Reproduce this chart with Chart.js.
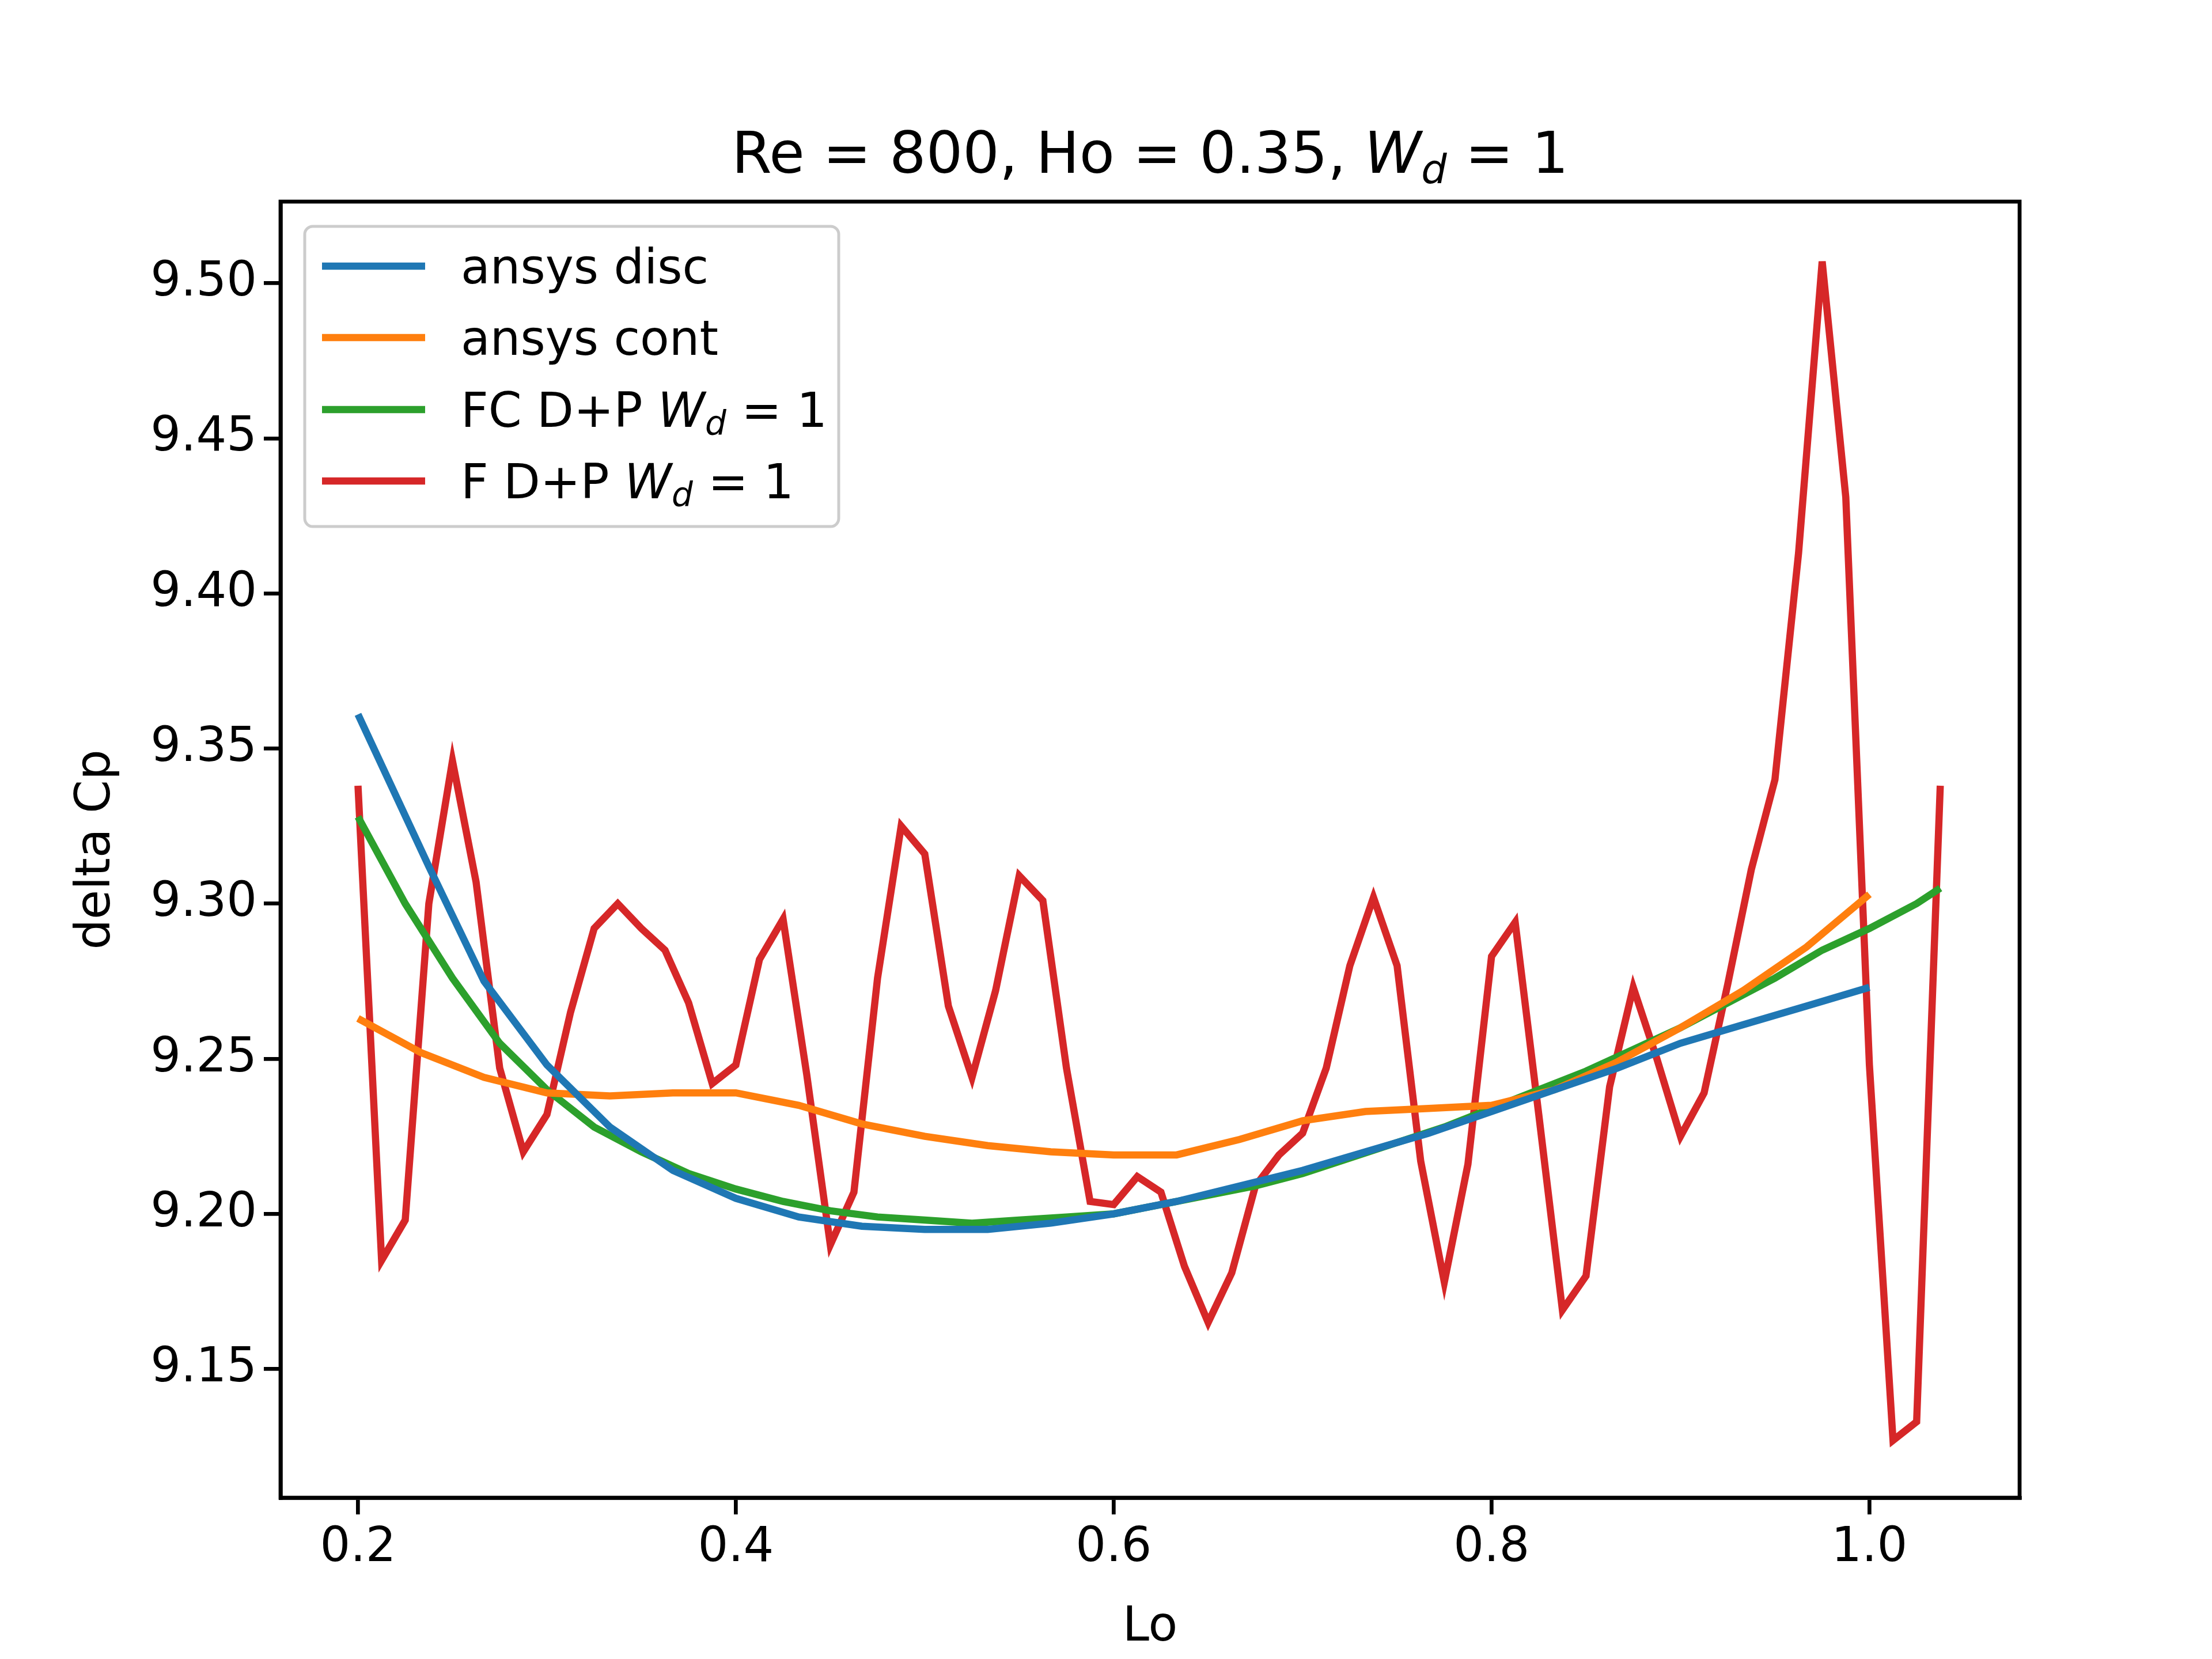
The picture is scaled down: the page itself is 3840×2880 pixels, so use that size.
<!DOCTYPE html>
<html><head><script src="https://cdn.jsdelivr.net/npm/chart.js@4"></script>
<style>html,body{margin:0;background:#fff}</style></head>
<body><canvas id="c" width="3840" height="2880" style="width:3840px;height:2880px"></canvas>
<script>
const xTicks=[0.2,0.4,0.6,0.8,1.0];
const yTicks=[9.15,9.20,9.25,9.30,9.35,9.40,9.45,9.50];
const blueX=[0.2,0.2375,0.2667,0.3,0.3333,0.3667,0.4,0.4333,0.4667,0.5,0.5333,0.5667,0.6,0.6333,0.6667,0.7,0.7333,0.7667,0.8,0.8333,0.8667,0.9,0.9333,0.9667,1.0];
const blueY=[9.361,9.312,9.275,9.248,9.228,9.214,9.205,9.199,9.196,9.195,9.195,9.197,9.200,9.204,9.209,9.214,9.220,9.226,9.233,9.240,9.247,9.255,9.261,9.267,9.273];
const orangeX=[0.2,0.2333,0.2667,0.3,0.3333,0.3667,0.4,0.4333,0.4667,0.5,0.5333,0.5667,0.6,0.6333,0.6667,0.7,0.7333,0.7667,0.8,0.8333,0.8667,0.9,0.9333,0.9667,1.0];
const orangeY=[9.263,9.252,9.244,9.239,9.238,9.239,9.239,9.235,9.229,9.225,9.222,9.220,9.219,9.219,9.224,9.230,9.233,9.234,9.235,9.240,9.249,9.260,9.272,9.286,9.303];
const greenX=[0.2,0.225,0.25,0.275,0.3,0.325,0.35,0.375,0.4,0.425,0.45,0.475,0.5,0.525,0.55,0.575,0.6,0.625,0.65,0.675,0.7,0.725,0.75,0.775,0.8,0.825,0.85,0.875,0.9,0.925,0.95,0.975,1.0,1.025,1.0375];
const greenY=[9.328,9.300,9.276,9.255,9.240,9.228,9.220,9.213,9.208,9.204,9.201,9.199,9.198,9.197,9.198,9.199,9.200,9.203,9.206,9.209,9.213,9.218,9.223,9.228,9.234,9.240,9.246,9.253,9.260,9.268,9.276,9.285,9.292,9.300,9.305];
const redX=[0.2,0.2125,0.225,0.2375,0.25,0.2625,0.275,0.2875,0.3,0.3125,0.325,0.3375,0.35,0.3625,0.375,0.3875,0.4,0.4125,0.425,0.4375,0.45,0.4625,0.475,0.4875,0.5,0.5125,0.525,0.5375,0.55,0.5625,0.575,0.5875,0.6,0.6125,0.625,0.6375,0.65,0.6625,0.675,0.6875,0.7,0.7125,0.725,0.7375,0.75,0.7625,0.775,0.7875,0.8,0.8125,0.825,0.8375,0.85,0.8625,0.875,0.8875,0.9,0.9125,0.925,0.9375,0.95,0.9625,0.975,0.9875,1.0,1.0125,1.025,1.0375];
const redY=[9.338,9.185,9.198,9.300,9.346,9.307,9.247,9.220,9.232,9.265,9.292,9.300,9.292,9.285,9.268,9.242,9.248,9.282,9.295,9.245,9.190,9.207,9.276,9.325,9.316,9.267,9.244,9.272,9.309,9.301,9.247,9.204,9.203,9.212,9.207,9.183,9.165,9.181,9.209,9.219,9.226,9.247,9.280,9.302,9.280,9.217,9.178,9.216,9.283,9.294,9.232,9.169,9.180,9.241,9.273,9.250,9.225,9.239,9.274,9.311,9.340,9.413,9.507,9.431,9.248,9.127,9.133,9.338];
const pts=(xs,ys)=>xs.map((x,i)=>({x,y:ys[i]}));
const colors=['#1f77b4','#ff7f0e','#2ca02c','#d62728'];
const FONT='"DejaVu Sans"';
const extras={id:'extras',afterDraw(ch){
 const c=ch.ctx,a=ch.chartArea;
 c.save();c.strokeStyle='#000';c.lineWidth=6.7;c.strokeRect(a.left,a.top,a.right-a.left,a.bottom-a.top);
 c.fillStyle='#000';c.textBaseline='alphabetic';
 const parts=[['Re = 800, Ho = 0.35, ','n',100],['W','i',100],['d','is',70],[' = 1','n',100]];
 const f=(t,s)=>(t[0]=='i'?'italic ':'')+s+'px '+FONT;
 let w=0;parts.forEach(p=>{c.font=f(p[1],p[2]);w+=c.measureText(p[0]).width;});
 let x=(a.left+a.right)/2-w/2;const by=300;
 parts.forEach(p=>{c.font=f(p[1],p[2]);c.fillText(p[0],x,by+(p[1]=='is'?18:0));x+=c.measureText(p[0]).width;});
 c.fillStyle='rgba(255,255,255,0.8)';c.strokeStyle='#ccc';c.lineWidth=5;
 c.beginPath();c.roundRect(529,393,927,521,14);c.fill();c.stroke();
 const labels=[[['ansys disc','n',83]],[['ansys cont','n',83]],[['FC D+P ','n',83],['W','i',83],['d','is',58],[' = 1','n',83]],[['F D+P ','n',83],['W','i',83],['d','is',58],[' = 1','n',83]]];
 const ys=[462,586,711,835];
 labels.forEach((l,i)=>{c.strokeStyle=colors[i];c.lineWidth=12.5;c.beginPath();c.moveTo(559,ys[i]);c.lineTo(738,ys[i]);c.stroke();
  let xx=800;c.fillStyle='#000';l.forEach(p=>{c.font=f(p[1],p[2]);c.fillText(p[0],xx,ys[i]+30+(p[1]=='is'?14:0));xx+=c.measureText(p[0]).width;});});
 c.restore();}};
new Chart(document.getElementById('c'),{type:'line',
 data:{datasets:[
  {data:pts(blueX,blueY),borderColor:colors[0]},
  {data:pts(orangeX,orangeY),borderColor:colors[1]},
  {data:pts(greenX,greenY),borderColor:colors[2]},
  {data:pts(redX,redY),borderColor:colors[3]}].map(d=>Object.assign(d,{borderWidth:12.5,pointRadius:0,tension:0,fill:false}))},
 options:{responsive:false,animation:false,devicePixelRatio:1,
  layout:{padding:{top:350,right:334,left:115,bottom:0}},
  plugins:{legend:{display:false},tooltip:{enabled:false}},
  scales:{
   x:{type:'linear',min:0.159,max:1.0795,afterBuildTicks:s=>{s.ticks=xTicks.map(v=>({value:v}));},
    afterFit:s=>{s.height=280;},
    grid:{drawOnChartArea:false,drawTicks:true,tickLength:29,color:'#000',lineWidth:6.7},border:{color:'#000',width:6.7},
    ticks:{color:'#000',font:{family:FONT,size:83},padding:10,maxRotation:0,callback:v=>v.toFixed(1)},
    title:{display:true,text:'Lo',color:'#000',font:{family:FONT,size:83},padding:{top:10}}},
   y:{type:'linear',min:9.1085,max:9.5263,afterBuildTicks:s=>{s.ticks=yTicks.map(v=>({value:v}));},
    afterFit:s=>{s.width=372;},
    grid:{drawOnChartArea:false,drawTicks:true,tickLength:29,color:'#000',lineWidth:6.7},border:{color:'#000',width:6.7},
    ticks:{color:'#000',font:{family:FONT,size:83},padding:12,callback:v=>v.toFixed(2)},
    title:{display:true,text:'delta Cp',color:'#000',font:{family:FONT,size:83},padding:{bottom:0}}}}},
 plugins:[extras]});
</script></body></html>
